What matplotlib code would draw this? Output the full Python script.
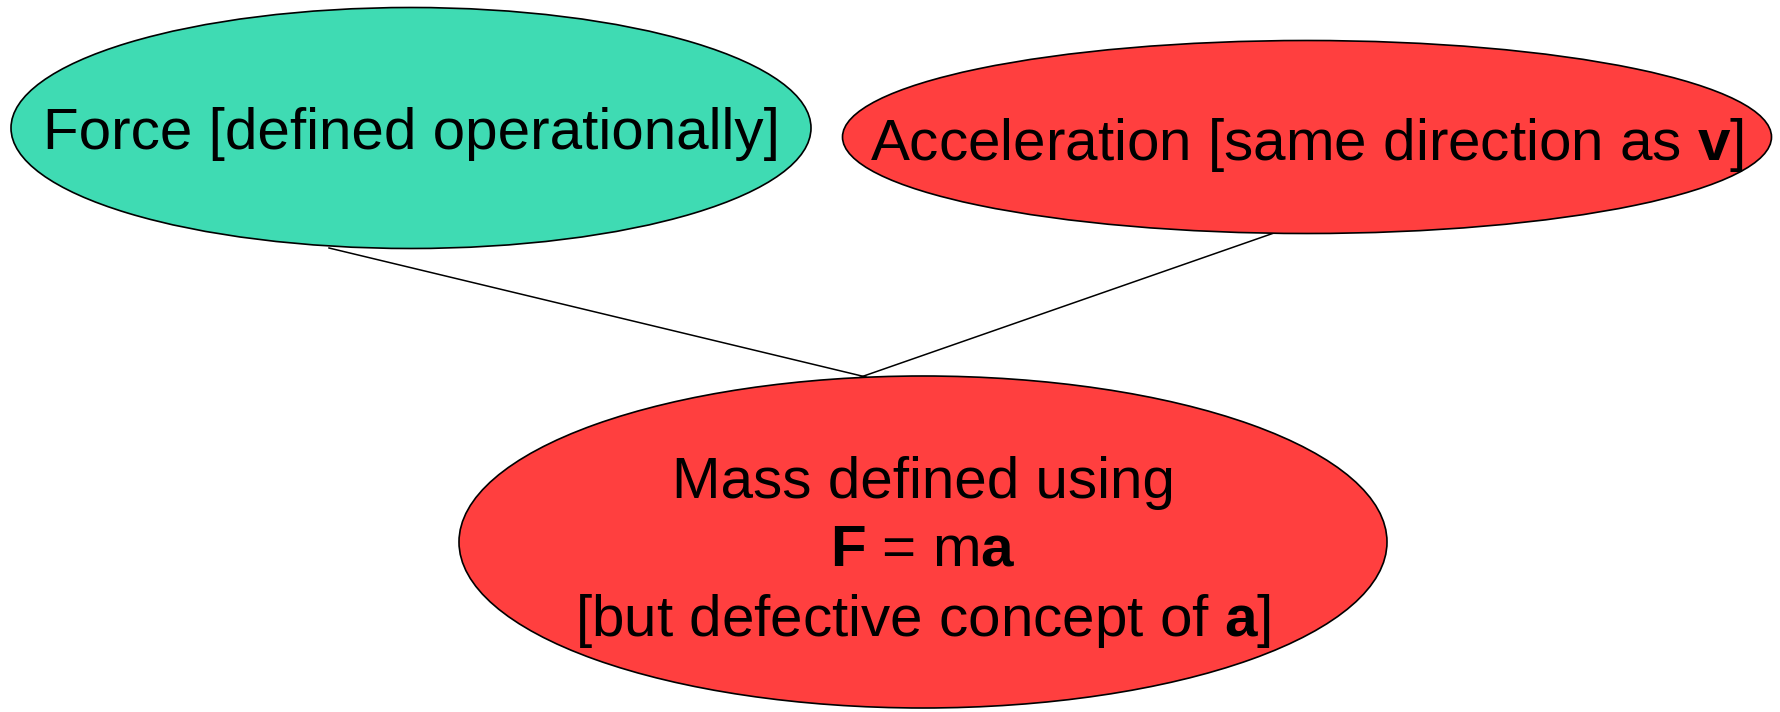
import matplotlib.pyplot as plt
from matplotlib.patches import Ellipse

plt.rcParams['font.family'] = ['Liberation Sans', 'DejaVu Sans']
plt.rcParams['mathtext.fontset'] = 'custom'
plt.rcParams['mathtext.rm'] = 'Liberation Sans'
plt.rcParams['mathtext.bf'] = 'Liberation Sans:bold'

# nodes of the concept map
labels = ["Force [defined operationally]",
          r"Acceleration [same direction as $\mathbf{v}$]",
          "Mass defined using\n" + r"$\mathbf{F}$ = m$\mathbf{a}$" + "\n" + r"[but defective concept of $\mathbf{a}$]"]
node_colors = ['#3fdbb3', '#ff3f3f', '#ff3f3f']

# geometry in pixels (x, y from top)
centers = [(411, 128), (1307, 137), (923, 542)]
sizes = [(800, 241), (929, 193), (928, 332)]
text_y = [134, 145, 553]

# links: (from point, to point)
links = [((329, 248), (866, 377)), ((1274, 233), (858, 378))]

W, H = 1781, 712
fig = plt.figure(figsize=(W / 100, H / 100), dpi=100)
ax = fig.add_axes([0, 0, 1, 1])
ax.set_xlim(0, W)
ax.set_ylim(H, 0)
ax.axis('off')

for (p0, p1) in links:
    ax.plot([p0[0], p1[0]], [p0[1], p1[1]], color='black', lw=1.1, zorder=1)

for lab, c, (w, h), col, ty in zip(labels, centers, sizes, node_colors, text_y):
    e = Ellipse(c, w, h, facecolor=col, edgecolor='black', lw=1.2, zorder=2)
    ax.add_patch(e)
    ax.text(c[0], ty, lab, ha='center', va='center', fontsize=42,
            linespacing=1.33, multialignment='center', zorder=3)

fig.savefig('out.png', dpi=100)
